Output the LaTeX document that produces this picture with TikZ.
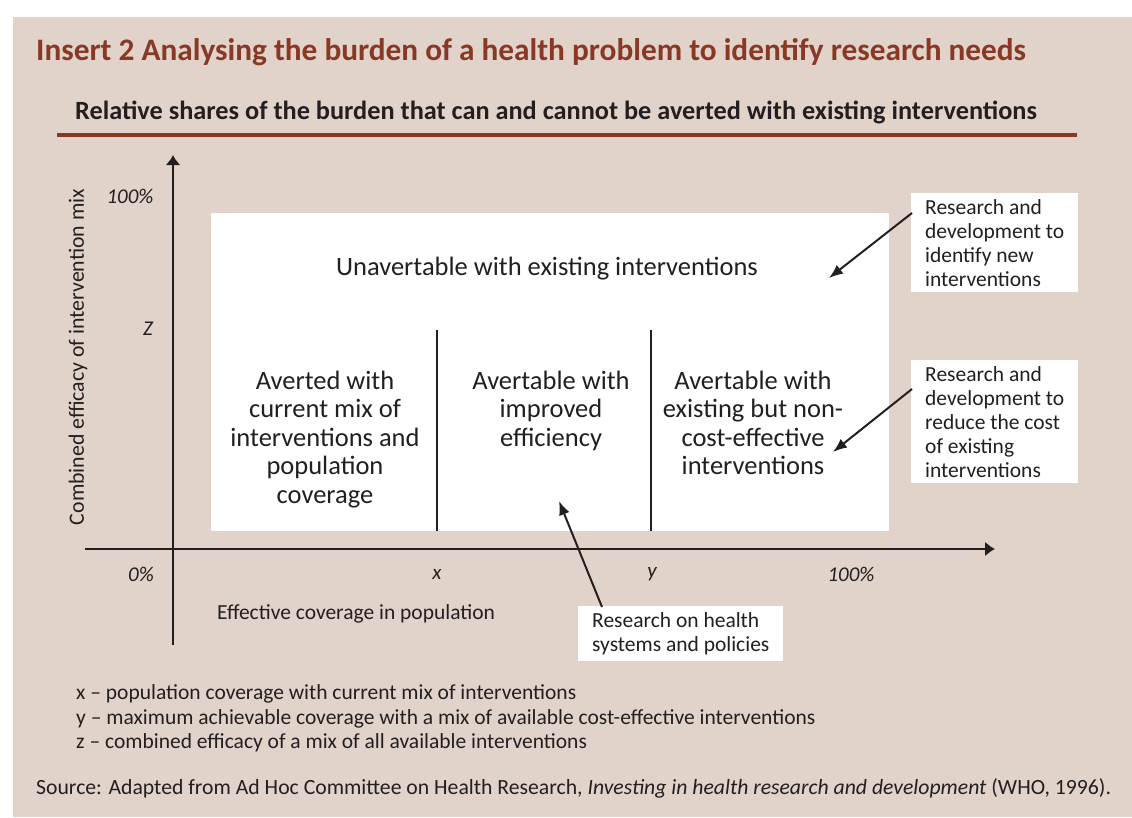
\documentclass[tikz,border=0pt]{standalone}
\usepackage{fontspec}
\setmainfont{Carlito}
\usetikzlibrary{arrows.meta}
\usetikzlibrary{positioning}
\usetikzlibrary{calc}
\definecolor{panelbg}{RGB}{225,211,201}
\definecolor{insertbrown}{RGB}{136,56,36}
\definecolor{inktext}{RGB}{35,31,32}
\tikzstyle{every node}=[font=\fontsize{26.5}{28.5}\selectfont,text=inktext,inner sep=0pt]
\tikzstyle{every path}=[line join=round]
\tikzstyle{axis}=[line width=2pt,draw=inktext,-{Latex[length=10pt,width=15pt]}]
\tikzstyle{divider}=[line width=2.5pt,draw=inktext]
\tikzstyle{pointer}=[line width=2pt,draw=inktext,-{Latex[length=14pt,width=11pt]}]
\tikzstyle{share}=[align=center,anchor=north]
\tikzstyle{callout}=[fill=white,align=left,anchor=north west,inner xsep=14pt,inner ysep=6pt,font=\fontsize{21.5}{24}\selectfont]
\tikzstyle{tick}=[font=\fontsize{21}{22}\selectfont\itshape]
\tikzstyle{note}=[anchor=west,font=\fontsize{21.5}{24}\selectfont]
\begin{document}
\begin{tikzpicture}[x=1pt,y=-1pt]
  \useasboundingbox (0,0) rectangle (1132,817);
  \fill[panelbg] (13,17) rectangle (1132,817);
  % heading
  \node[anchor=west,font=\fontsize{31.3}{34}\selectfont\bfseries,text=insertbrown] (title) at (36,52)
    {Insert 2 Analysing the burden of a health problem to identify research needs};
  \node[anchor=west,font=\fontsize{26.3}{28}\selectfont\bfseries] (subtitle) at (75,112)
    {Relative shares of the burden that can and cannot be averted with existing interventions};
  \draw[line width=4pt,insertbrown] (57,135)--(1077,135);
  % burden area
  \fill[white] (211,213) rectangle (889,531);
  \draw[divider] (437,330)--(437,531) (651,330)--(651,531);
  \draw[axis] (173,645)--(173,155);
  \draw[axis] (85,549)--(995,549);
  \node (unavert) at (547,269) {Unavertable with existing interventions};
  \node[share] (averted) at (325,370.5) {Averted with\\current mix of\\interventions and\\population\\coverage};
  \node[share] (improved) at (551,370.5) {Avertable with\\improved\\efficiency};
  \node[share] (noncost) at (753,370.5) {Avertable with\\existing but non-\\cost-effective\\interventions};
  % axis labels
  \node[tick] (ytop) at (130,196) {100\%};
  \node[tick] (yz) at (148,329) {Z};
  \node[tick] (xzero) at (141,574) {0\%};
  \node[tick] (xx) at (437,574) {x};
  \node[tick] (xy) at (652,574) {y};
  \node[tick] (xtop) at (851,574) {100\%};
  \node[rotate=90,font=\fontsize{21.8}{24}\selectfont] (ylabel) at (78,357) {Combined efficacy of intervention mix};
  \node[anchor=west,font=\fontsize{21.5}{24}\selectfont] (xlabel) at (217,614) {Effective coverage in population};
  % research callouts
  \node[callout] (rdnew) at (911,193) {Research and\\development to\\identify new\\interventions};
  \node[callout] (rdcost) at (911,360) {Research and\\development to\\reduce the cost\\of existing\\interventions};
  \node[callout] (rhsp) at (578,606) {Research on health\\systems and policies};
  \coordinate (newtip) at (829,278);
  \coordinate (costtip) at (833,452);
  \coordinate (systip) at (559,501);
  \draw[pointer] ($(rdnew.north west)+(1,20)$)--(newtip);
  \draw[pointer] ($(rdcost.north west)+(1,29)$)--(costtip);
  \draw[pointer] ($(rhsp.north west)+(24,1)$)--(systip);
  % key and source
  \node[note] (keyx) at (76,694) {x -- population coverage with current mix of interventions};
  \node[note] (keyy) at (76,719) {y -- maximum achievable coverage with a mix of available cost-effective interventions};
  \node[note] (keyz) at (76,743) {z -- combined efficacy of a mix of all available interventions};
  \node[note,font=\fontsize{21.7}{24}\selectfont] (source) at (36,788)
    {Source: Adapted from Ad Hoc Committee on Health Research, \textit{Investing in health research and development} (WHO, 1996).};
\end{tikzpicture}
\end{document}
